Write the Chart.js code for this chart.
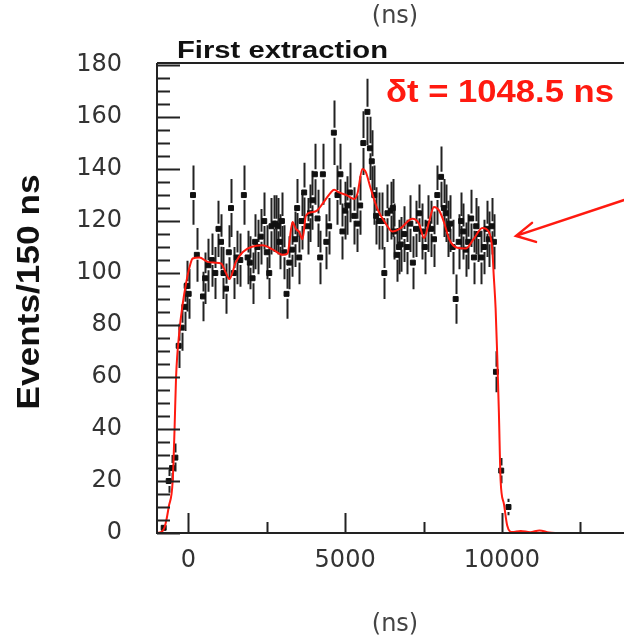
<!DOCTYPE html>
<html>
<head>
<meta charset="utf-8">
<script src="https://cdn.jsdelivr.net/npm/chart.js@4.4.1/dist/chart.umd.min.js"></script>
<style>
  html, body { margin: 0; padding: 0; background: #fff; overflow: hidden; }
  canvas { display: block; }
</style>
</head>
<body>
<canvas id="chart" width="650" height="642"></canvas>
<script>
// Events per bin (with sqrt(N) error bars), time in ns
var countX = [-787, -627, -519, -414, -309, -213, -120, -54, 10, 148, 270, 466, 536, 640, 750, 860, 960, 1041,
  1120, 1200, 1290, 1360, 1450, 1540, 1656, 1770, 1890, 1960, 2048, 2130, 2207, 2310, 2420, 2500, 2580, 2650,
  2717, 2793, 2844, 2910, 2984, 3060, 3131, 3220, 3303, 3408, 3470, 3535, 3610, 3694, 3800, 3880, 3959, 4035,
  4120, 4204, 4290, 4400, 4490, 4640, 4755, 4850, 4914, 5000, 5073, 5150, 5290, 5392, 5480, 5580, 5710, 5790,
  5850, 5930, 5990, 6083, 6188, 6250, 6350, 6455, 6520, 6561, 6646, 6720, 6774, 6880, 6984, 7080, 7160, 7260,
  7357, 7450, 7540, 7640, 7740, 7834, 7940, 8060, 8150, 8207, 8280, 8344, 8430, 8525, 8620, 8700, 8768, 8850,
  8927, 9020, 9108, 9180, 9245, 9340, 9427, 9510, 9586, 9680, 9745, 9810, 9978, 10210];
var countY = [2, 20, 25, 29, 72, 79, 87, 95, 92, 130, 107, 91, 98, 103, 105, 100, 117, 112,
  100, 94, 108, 125, 100, 106, 105, 130, 106, 104, 98, 112, 110, 114, 120, 108, 100, 118,
  119, 119, 118, 112, 120, 108, 92, 104, 109, 113, 125, 106, 120, 131, 118, 123, 128, 138,
  121, 106, 138, 112, 118, 154, 130, 138, 116, 124, 126, 131, 122, 119, 126, 150, 162, 148,
  143, 130, 122, 120, 120, 100, 123, 124, 125, 116, 107, 110, 111, 115, 110, 119, 104, 117,
  123, 116, 110, 119, 117, 113, 130, 137, 125, 123, 117, 119, 110, 90, 112, 120, 116, 109,
  112, 121, 106, 118, 115, 106, 110, 117, 113, 118, 112, 62, 24, 10];

// red fit curve
var curveX = [-1000, -850, -764, -700, -627, -500, -440, -392, -287, -182, -73, 32, 137, 350, 615, 850, 1041,
  1200, 1306, 1519, 1729, 2000, 2366, 2700, 3003, 3162, 3322, 3430, 3535, 3640, 3748, 3908, 4100, 4277, 4545,
  4650, 4809, 5073, 5287, 5392, 5551, 5659, 5818, 6029, 6296, 6506, 6774, 7143, 7357, 7516, 7675, 7834, 7994,
  8153, 8312, 8576, 8844, 9108, 9373, 9586, 9691, 9740, 9799, 9850, 9904, 9959, 10064, 10169, 10328, 10600,
  10900, 11200, 11500, 11800];
var curveY = [0, 0.5, 2, 5, 10, 20, 40, 60, 77.5, 88, 96, 102, 105.6, 106, 104.3, 104, 103.7,
  100, 97.7, 104.3, 108, 110, 110.7, 109, 107, 107.5, 119.6, 117, 115.8, 113, 122, 123.4, 124, 126.6, 131,
  132, 131, 129.8, 128.5, 130.5, 140, 138.8, 132.4, 124.7, 119, 116, 117.3, 120.9, 119, 113.5, 119.6, 125.4, 124.1,
  119.6, 113.2, 109.7, 109.4, 113.2, 117.3, 115.8, 109.4, 99, 86.5, 68.6, 46.3, 20.2, 11.2, 2.9, 0.4, 0.8,
  0.3, 1, 0.2, 0];

var xTickLabels = [0, 5000, 10000];
var yTickLabels = [0, 20, 40, 60, 80, 100, 120, 140, 160, 180];

var axisColor = '#222';
var redColor = '#ff1a10';

function fitText(ctx, text, x, y, width) {
  var w = ctx.measureText(text).width;
  ctx.save();
  ctx.translate(x, y);
  ctx.scale(width / w, 1);
  ctx.fillText(text, 0, 0);
  ctx.restore();
}

// error bars (behind the markers)
var errorBars = {
  id: 'errorBars',
  beforeDatasetsDraw: function (chart) {
    var ctx = chart.ctx, xs = chart.scales.x, ys = chart.scales.y;
    ctx.save();
    ctx.strokeStyle = axisColor;
    ctx.lineWidth = 2;
    countY.forEach(function (v, i) {
      var e = Math.sqrt(v);
      var px = Math.round(xs.getPixelForValue(countX[i])) + 0.5;
      var py = ys.getPixelForValue(v);
      var top = ys.getPixelForValue(Math.min(v + e, 180));
      var bot = ys.getPixelForValue(Math.max(v - e, 0));
      ctx.beginPath();
      if (py - 5 > top) { ctx.moveTo(px, top); ctx.lineTo(px, py - 5); }
      if (py + 5 < bot) { ctx.moveTo(px, py + 5); ctx.lineTo(px, bot); }
      ctx.stroke();
    });
    ctx.restore();
  }
};

// frame, inward ticks, texts, arrow
var decorations = {
  id: 'decorations',
  afterDraw: function (chart) {
    var ctx = chart.ctx, a = chart.chartArea, xs = chart.scales.x, ys = chart.scales.y;
    ctx.save();
    ctx.strokeStyle = axisColor;
    ctx.lineWidth = 2;
    ctx.beginPath();
    ctx.moveTo(a.left, a.top); ctx.lineTo(a.left, a.bottom); ctx.lineTo(a.right, a.bottom);
    ctx.moveTo(a.left, a.top); ctx.lineTo(a.right, a.top);
    ctx.stroke();

    ctx.beginPath();
    for (var v = 0; v <= 180; v += 5) {
      var y = Math.round(ys.getPixelForValue(v)) + 0.5;
      ctx.moveTo(a.left, y);
      ctx.lineTo(a.left + (v % 20 === 0 ? 23 : 13), y);
    }
    for (var t = 0; t <= xs.max; t += 2500) {
      var x = Math.round(xs.getPixelForValue(t)) + 0.5;
      ctx.moveTo(x, a.bottom);
      ctx.lineTo(x, a.bottom - (t % 5000 === 0 ? 20 : 11));
    }
    ctx.stroke();

    // texts
    ctx.fillStyle = '#111';
    ctx.textAlign = 'left';
    ctx.textBaseline = 'alphabetic';
    ctx.font = 'bold 23px "Liberation Sans", Arial, sans-serif';
    fitText(ctx, 'First extraction', 177, 58, 211);

    ctx.fillStyle = redColor;
    ctx.font = 'bold 32px "Liberation Sans", Arial, sans-serif';
    fitText(ctx, 'δt = 1048.5 ns', 386, 102, 228);

    ctx.fillStyle = '#444';
    ctx.textAlign = 'center';
    ctx.textBaseline = 'middle';
    ctx.font = '24px "DejaVu Sans", sans-serif';
    ctx.fillText('(ns)', 395, 17);
    ctx.fillText('(ns)', 395, 625);

    ctx.fillStyle = '#111';
    ctx.font = 'bold 32px "Liberation Sans", Arial, sans-serif';
    ctx.save();
    ctx.translate(30, 292);
    ctx.rotate(-Math.PI / 2);
    var lw = ctx.measureText('Events/150 ns').width;
    ctx.scale(235 / lw, 1);
    ctx.fillText('Events/150 ns', 0, 0);
    ctx.restore();

    // arrow pointing at the falling edge
    var tipX = xs.getPixelForValue(10450), tipY = ys.getPixelForValue(114.3);
    var tailX = xs.getPixelForValue(14500), tailY = ys.getPixelForValue(130.5);
    ctx.strokeStyle = redColor;
    ctx.lineWidth = 2.5;
    ctx.lineCap = 'round';
    ctx.beginPath();
    ctx.moveTo(tailX, tailY); ctx.lineTo(tipX, tipY);
    ctx.moveTo(tipX + 16, tipY - 13); ctx.lineTo(tipX, tipY); ctx.lineTo(tipX + 20, tipY + 6);
    ctx.stroke();
    ctx.restore();
  }
};

var tickFont = { family: '"DejaVu Sans", sans-serif', size: 24 };

var chart = new Chart(document.getElementById('chart').getContext('2d'), {
  data: {
    datasets: [
      {
        type: 'line',
        label: 'fit',
        data: curveX.map(function (x, i) { return { x: x, y: curveY[i] }; }),
        borderColor: redColor,
        borderWidth: 2,
        pointRadius: 0,
        cubicInterpolationMode: 'monotone',
        fill: false,
        order: 0
      },
      {
        type: 'scatter',
        label: 'data',
        data: countX.map(function (x, i) { return { x: x, y: countY[i] }; }),
        pointStyle: 'rect',
        pointRadius: 3.5,
        borderWidth: 1,
        backgroundColor: '#111',
        borderColor: '#111',
        order: 1
      }
    ]
  },
  options: {
    responsive: false,
    animation: false,
    layout: { padding: { left: 0, right: 7, top: 63, bottom: 0 } },
    plugins: { legend: { display: false }, tooltip: { enabled: false }, title: { display: false } },
    scales: {
      x: {
        type: 'linear',
        min: -1000,
        max: 14500,
        grid: { display: false },
        border: { display: false },
        afterBuildTicks: function (scale) {
          scale.ticks = xTickLabels.map(function (v) { return { value: v }; });
        },
        afterFit: function (scale) { scale.height = 109; },
        ticks: {
          color: '#333', font: tickFont, padding: 5, maxRotation: 0, autoSkip: false,
          callback: function (v) { return String(v); }
        }
      },
      y: {
        min: 0,
        max: 180.8,
        grid: { display: false },
        border: { display: false },
        afterBuildTicks: function (scale) {
          scale.ticks = yTickLabels.map(function (v) { return { value: v }; });
        },
        afterFit: function (scale) { scale.width = 157; },
        ticks: { color: '#333', font: tickFont, padding: 27, autoSkip: false }
      }
    }
  },
  plugins: [errorBars, decorations]
});
</script>
</body>
</html>
